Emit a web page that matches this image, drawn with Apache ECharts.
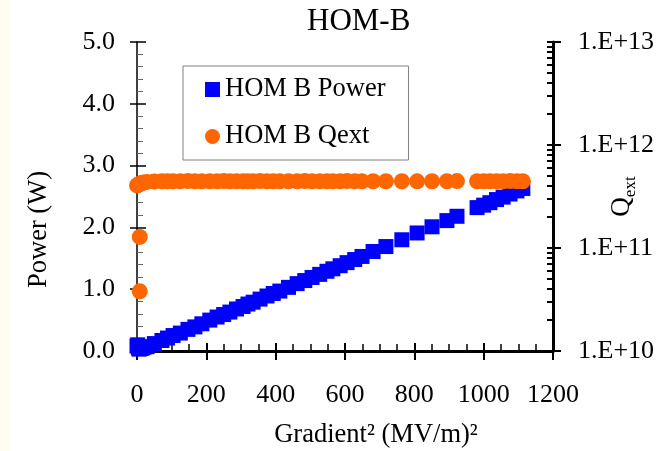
<!DOCTYPE html>
<html>
<head>
<meta charset="utf-8">
<script src="https://cdn.jsdelivr.net/npm/echarts@6/dist/echarts.min.js"></script>
<style>
  html, body { margin: 0; padding: 0; }
  body { background: linear-gradient(to right, #fffcf0 0px, #fffcf0 10px, #ffffff 10px); }
  #chart { width: 670px; height: 451px; }
</style>
</head>
<body>
<div id="chart"></div>
<script>
// ---- data ----
const gradSq = [0, 2, 4, 6, 9, 12, 16, 20, 29, 50, 72, 88, 104, 125, 147, 167, 187, 210, 231, 250,
  268, 287, 306, 320, 335, 355, 375, 393, 412, 437, 462, 484, 505, 527, 548, 565, 586, 606, 628, 649,
  681, 718, 764, 808, 851, 894, 923, 981, 1000, 1018, 1037, 1056, 1076, 1096, 1113];
const powerW = [0.08, 0.10, 0.05, 0.03, 0.06, 0.04, 0.05, 0.06, 0.07, 0.12, 0.17, 0.21, 0.25, 0.29, 0.35, 0.39, 0.44, 0.50, 0.55, 0.59,
  0.63, 0.68, 0.72, 0.76, 0.79, 0.84, 0.89, 0.93, 0.97, 1.03, 1.09, 1.14, 1.19, 1.24, 1.29, 1.33, 1.38, 1.43, 1.48, 1.53,
  1.61, 1.69, 1.80, 1.91, 2.01, 2.11, 2.18, 2.32, 2.36, 2.40, 2.45, 2.49, 2.54, 2.59, 2.63];
const qext = [4.05e11, 4.08e11, 4.12e11, 4.15e11, 4.2e11, 4.25e11, 4.3e11, 4.33e11, 4.38e11, 4.42e11, 4.45e11, 4.45e11, 4.44e11, 4.45e11, 4.46e11, 4.45e11, 4.45e11, 4.44e11, 4.45e11, 4.46e11,
  4.45e11, 4.45e11, 4.44e11, 4.45e11, 4.45e11, 4.46e11, 4.45e11, 4.45e11, 4.44e11, 4.45e11, 4.45e11, 4.46e11, 4.45e11, 4.44e11, 4.45e11, 4.45e11, 4.45e11, 4.46e11, 4.45e11, 4.44e11,
  4.45e11, 4.45e11, 4.45e11, 4.44e11, 4.45e11, 4.45e11, 4.46e11, 4.45e11, 4.45e11, 4.44e11, 4.45e11, 4.45e11, 4.46e11, 4.45e11, 4.45e11];
const qextLowX = [8, 8];
const qextLow = [3.8e10, 1.28e11];
const xTicks = { min: 0, max: 1200, step: 200 };
const powerTicks = { min: 0, max: 5, step: 1 };
const qextRange = { min: 1e10, max: 1e13 };

// ---- chart ----
const FONT = "'Liberation Serif', 'Times New Roman', serif";
const powerData = gradSq.map((x, i) => [x, powerW[i]]);
const qextData = qextLowX.map((x, i) => [x, qextLow[i]]).concat(gradSq.map((x, i) => [x, qext[i]]));

// log minor tick positions (exponent space) for overlay axis
const logMin = Math.log10(qextRange.min), logMax = Math.log10(qextRange.max);
const minorLog = [];
for (let n = logMin; n <= logMax; n++) {
  minorLog.push(n);
  if (n < logMax) for (let k = 2; k <= 9; k++) minorLog.push(n + Math.log10(k));
}

const chart = echarts.init(document.getElementById('chart'), null, { renderer: 'canvas' });
chart.setOption({
  animation: false,
  backgroundColor: 'transparent',
  title: {
    text: 'HOM-B', left: 307, top: 6, padding: 0,
    textStyle: { fontFamily: FONT, fontSize: 31, fontWeight: 'normal', color: '#000' }
  },
  legend: {
    orient: 'vertical', left: 183, top: 66,
    backgroundColor: '#fff', borderColor: '#808080', borderWidth: 1,
    padding: [10, 23, 10, 22], itemGap: 20, itemWidth: 15, itemHeight: 15,
    textStyle: { fontFamily: FONT, fontSize: 26.5, color: '#000', lineHeight: 26 },
    data: [{ name: 'HOM B Power', icon: 'rect' }, { name: 'HOM B Qext', icon: 'circle' }]
  },
  grid: { left: 137, right: 117, top: 42, bottom: 100, containLabel: false, outerBoundsMode: 'none' },
  xAxis: [
    {
      type: 'value', min: xTicks.min, max: xTicks.max, interval: xTicks.step, position: 'bottom',
      axisLine: { onZero: false, lineStyle: { color: '#000', width: 3 } },
      axisTick: { length: 9, lineStyle: { color: '#000', width: 2 } },
      axisLabel: { formatter: v => String(v), fontFamily: FONT, fontSize: 26, color: '#000', margin: 31 },
      splitLine: { show: false },
      name: 'Gradient² (MV/m)²', nameLocation: 'middle', nameGap: 71, nameMoveOverlap: false,
      nameTextStyle: { fontFamily: FONT, fontSize: 26.5, color: '#000', padding: [0, 0, 0, 62] }
    },
    {
      type: 'value', min: xTicks.min, max: xTicks.max, interval: xTicks.step, position: 'bottom',
      axisLine: { show: false, onZero: false },
      axisTick: { inside: true, length: 8, lineStyle: { color: '#000', width: 2 } },
      minorTick: { show: true, splitNumber: 4, length: 7, lineStyle: { color: '#000', width: 1.5 } },
      axisLabel: { show: false }, splitLine: { show: false }
    }
  ],
  yAxis: [
    {
      type: 'value', min: powerTicks.min, max: powerTicks.max, interval: powerTicks.step, position: 'left',
      axisLine: { onZero: false, lineStyle: { color: '#000', width: 1.5 } },
      axisTick: { length: 7, lineStyle: { color: '#000', width: 1.5 } },
      axisLabel: { formatter: v => v.toFixed(1), fontFamily: FONT, fontSize: 26, color: '#000', margin: 22 },
      splitLine: { show: false },
      name: 'Power (W)', nameLocation: 'middle', nameGap: 84, nameRotate: 90, nameMoveOverlap: false,
      nameTextStyle: { fontFamily: FONT, fontSize: 26.5, color: '#000', padding: [0, 66, 0, 0] }
    },
    {
      type: 'value', min: powerTicks.min, max: powerTicks.max, interval: powerTicks.step, position: 'left',
      axisLine: { show: false, onZero: false },
      axisTick: { inside: true, length: 9, lineStyle: { color: '#000', width: 1.5 } },
      minorTick: { show: true, splitNumber: 5, length: 6, lineStyle: { color: '#666', width: 1 } },
      axisLabel: { show: false }, splitLine: { show: false }
    },
    {
      type: 'log', logBase: 10, min: qextRange.min, max: qextRange.max, position: 'right',
      axisLine: { onZero: false, lineStyle: { color: '#000', width: 3 } },
      axisTick: { length: 8, lineStyle: { color: '#000', width: 2 } },
      axisLabel: {
        formatter: v => '1.E+' + Math.round(Math.log10(v)),
        fontFamily: FONT, fontSize: 26, color: '#000', margin: 25
      },
      splitLine: { show: false },
      name: '{q|Q}{s|ext}', nameLocation: 'middle', nameGap: 52, nameRotate: 90, nameMoveOverlap: false,
      nameTextStyle: {
        color: '#000',
        rich: {
          q: { fontFamily: FONT, fontSize: 27, color: '#000', lineHeight: 34 },
          s: { fontFamily: FONT, fontSize: 17, color: '#000', lineHeight: 16, verticalAlign: 'bottom' }
        }
      }
    },
    {
      type: 'value', min: logMin, max: logMax, position: 'right',
      axisLine: { show: false, onZero: false },
      axisTick: { show: true, inside: true, length: 6, lineStyle: { color: '#000', width: 2 }, customValues: minorLog },
      axisLabel: { show: false }, splitLine: { show: false }
    }
  ],
  series: [
    {
      name: 'HOM B Power', type: 'scatter', xAxisIndex: 0, yAxisIndex: 0,
      symbol: 'rect', symbolSize: 15, itemStyle: { color: '#0000ff', opacity: 1 },
      emphasis: { disabled: true }, data: powerData, z: 2
    },
    {
      name: 'HOM B Qext', type: 'scatter', xAxisIndex: 0, yAxisIndex: 2,
      symbol: 'circle', symbolSize: 16, itemStyle: { color: '#ff6600', opacity: 1 },
      emphasis: { disabled: true }, data: qextData, z: 3
    }
  ]
});
</script>
</body>
</html>
